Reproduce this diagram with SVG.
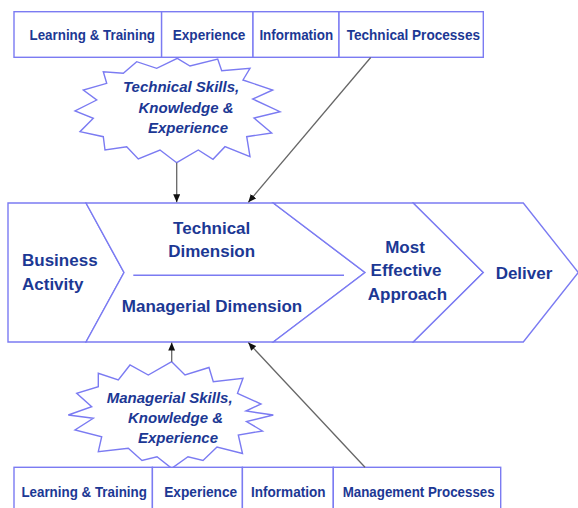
<svg xmlns="http://www.w3.org/2000/svg" width="578" height="508" viewBox="0 0 578 508">
  <style>
    .box { fill: #ffffff; stroke: #7b7bf2; stroke-width: 1.4; }
    .shape { fill: #ffffff; stroke: #7b7bf2; stroke-width: 1.4; stroke-linejoin: miter; }
    .rule { stroke: #7b7bf2; stroke-width: 1.4; fill: none; }
    .cell { font-family: "Liberation Sans", Arial, sans-serif; font-weight: bold; font-size: 15.5px; fill: #1c3894; }
    .big { font-family: "Liberation Sans", Arial, sans-serif; font-weight: bold; font-size: 17px; fill: #1c3894; }
    .burst { font-family: "Liberation Sans", Arial, sans-serif; font-weight: bold; font-style: italic; font-size: 15px; fill: #1c3894; }
    .mid { text-anchor: middle; }
    .link { stroke: #666666; stroke-width: 1.3; fill: none; marker-end: url(#arrow); }
  </style>
  <defs>
    <marker id="arrow" markerUnits="userSpaceOnUse" markerWidth="8" markerHeight="7" refX="8" refY="3.5" orient="auto">
      <path d="M0,0 L8,3.5 L0,7 z" fill="#111111"/>
    </marker>
  </defs>

  <rect width="578" height="508" fill="#ffffff"/>

  <!-- top row of source boxes -->
  <g id="top-learning">
    <rect class="box" x="14" y="11.7" width="147.6" height="45.6"/>
    <text class="cell" x="29.5" y="39.5" textLength="125.5" lengthAdjust="spacingAndGlyphs">Learning &amp; Training</text>
  </g>
  <g id="top-experience">
    <rect class="box" x="161.6" y="11.7" width="91.4" height="45.6"/>
    <text class="cell" x="172.7" y="39.5" textLength="72.7" lengthAdjust="spacingAndGlyphs">Experience</text>
  </g>
  <g id="top-information">
    <rect class="box" x="253" y="11.7" width="86" height="45.6"/>
    <text class="cell" x="259.4" y="39.5" textLength="73.8" lengthAdjust="spacingAndGlyphs">Information</text>
  </g>
  <g id="top-processes">
    <rect class="box" x="339" y="11.7" width="144.3" height="45.6"/>
    <text class="cell" x="346.7" y="39.5" textLength="133.3" lengthAdjust="spacingAndGlyphs">Technical Processes</text>
  </g>

  <!-- technical skills burst -->
  <g id="technical-skills">
    <polygon class="shape" points="177.3,58.3 190,66 217.7,59 221.7,70.7 250,68.3 243,80 272.7,90 252.7,99 280,111.7 254,118 271.7,133 246.7,136.7 250,156.7 225,146.7 213,159.3 198.3,150 176.7,162.7 160,150 138.3,159 126.7,146.7 105,150 103.3,136.7 80,131.7 93.3,118.3 75,111 96.7,100 83.3,90 106.7,83.3 103.3,71.7 123.3,73.3 136.7,61.7 156.7,68.3"/>
    <text class="burst" x="123" y="92">Technical Skills,</text>
    <text class="burst" x="138.5" y="112.5">Knowledge &amp;</text>
    <text class="burst" x="148" y="133">Experience</text>
  </g>

  <!-- value chain band -->
  <g id="business-activity">
    <polygon class="shape" points="8,203 86,203 124,272.5 86,342 8,342"/>
    <text class="big" x="22" y="266">Business</text>
    <text class="big" x="22" y="289.5">Activity</text>
  </g>
  <g id="dimensions">
    <polygon class="shape" points="86,203 273.3,203 365,272.5 273.3,342 86,342 124,272.5"/>
    <line class="rule" x1="133.3" y1="275.3" x2="344" y2="275.3"/>
    <text class="big mid" x="211.7" y="234">Technical</text>
    <text class="big mid" x="211.7" y="257.3">Dimension</text>
    <text class="big mid" x="212" y="312">Managerial Dimension</text>
  </g>
  <g id="effective-approach">
    <polygon class="shape" points="273.3,203 413.3,203 483.3,272.5 413.3,342 273.3,342 365,272.5"/>
    <text class="big mid" x="405" y="252.5">Most</text>
    <text class="big mid" x="406" y="276">Effective</text>
    <text class="big mid" x="407.5" y="299.5">Approach</text>
  </g>
  <g id="deliver">
    <polygon class="shape" points="413.3,203 523.3,203 578.3,272.5 523.3,342 413.3,342 483.3,272.5"/>
    <text class="big mid" x="524" y="279">Deliver</text>
  </g>

  <!-- managerial skills burst -->
  <g id="managerial-skills">
    <polygon class="shape" points="171.7,361.7 185,375 209,367.5 213.3,381.7 243,378.3 237.5,393.3 261,404 246,411 273.3,415 246.5,421.5 262.5,431 238.3,435 242.5,453.5 217,447 203,460.5 188,456.7 171.7,468.3 157,456.7 142,460.5 128.3,448.3 98.3,451.7 101.7,436.7 75,430 93.3,418.3 68.3,415 91.7,406.7 76.7,393.3 98.3,386.7 98.3,373.3 118.3,380 130,365 148.3,375"/>
    <text class="burst" x="106.7" y="403">Managerial Skills,</text>
    <text class="burst" x="128" y="423">Knowledge &amp;</text>
    <text class="burst" x="138" y="443">Experience</text>
  </g>

  <!-- bottom row of source boxes -->
  <g id="bottom-learning">
    <rect class="box" x="14" y="467.3" width="138.4" height="60"/>
    <text class="cell" x="21.4" y="496.5" textLength="125.5" lengthAdjust="spacingAndGlyphs">Learning &amp; Training</text>
  </g>
  <g id="bottom-experience">
    <rect class="box" x="152.4" y="467.3" width="90" height="60"/>
    <text class="cell" x="164.2" y="496.5" textLength="73" lengthAdjust="spacingAndGlyphs">Experience</text>
  </g>
  <g id="bottom-information">
    <rect class="box" x="242.4" y="467.3" width="90.9" height="60"/>
    <text class="cell" x="251" y="496.5" textLength="74.5" lengthAdjust="spacingAndGlyphs">Information</text>
  </g>
  <g id="bottom-processes">
    <rect class="box" x="333.3" y="467.3" width="167.4" height="60"/>
    <text class="cell" x="342.7" y="496.5" textLength="152" lengthAdjust="spacingAndGlyphs">Management Processes</text>
  </g>

  <!-- connectors -->
  <g id="connectors">
    <line class="link" x1="176.7" y1="162.7" x2="176.7" y2="202.3"/>
    <line class="link" x1="370.7" y1="57.5" x2="248.3" y2="202.3"/>
    <line class="link" x1="171.7" y1="361.7" x2="171.7" y2="342.6"/>
    <line class="link" x1="365" y1="467.3" x2="248.3" y2="342.6"/>
  </g>
</svg>
